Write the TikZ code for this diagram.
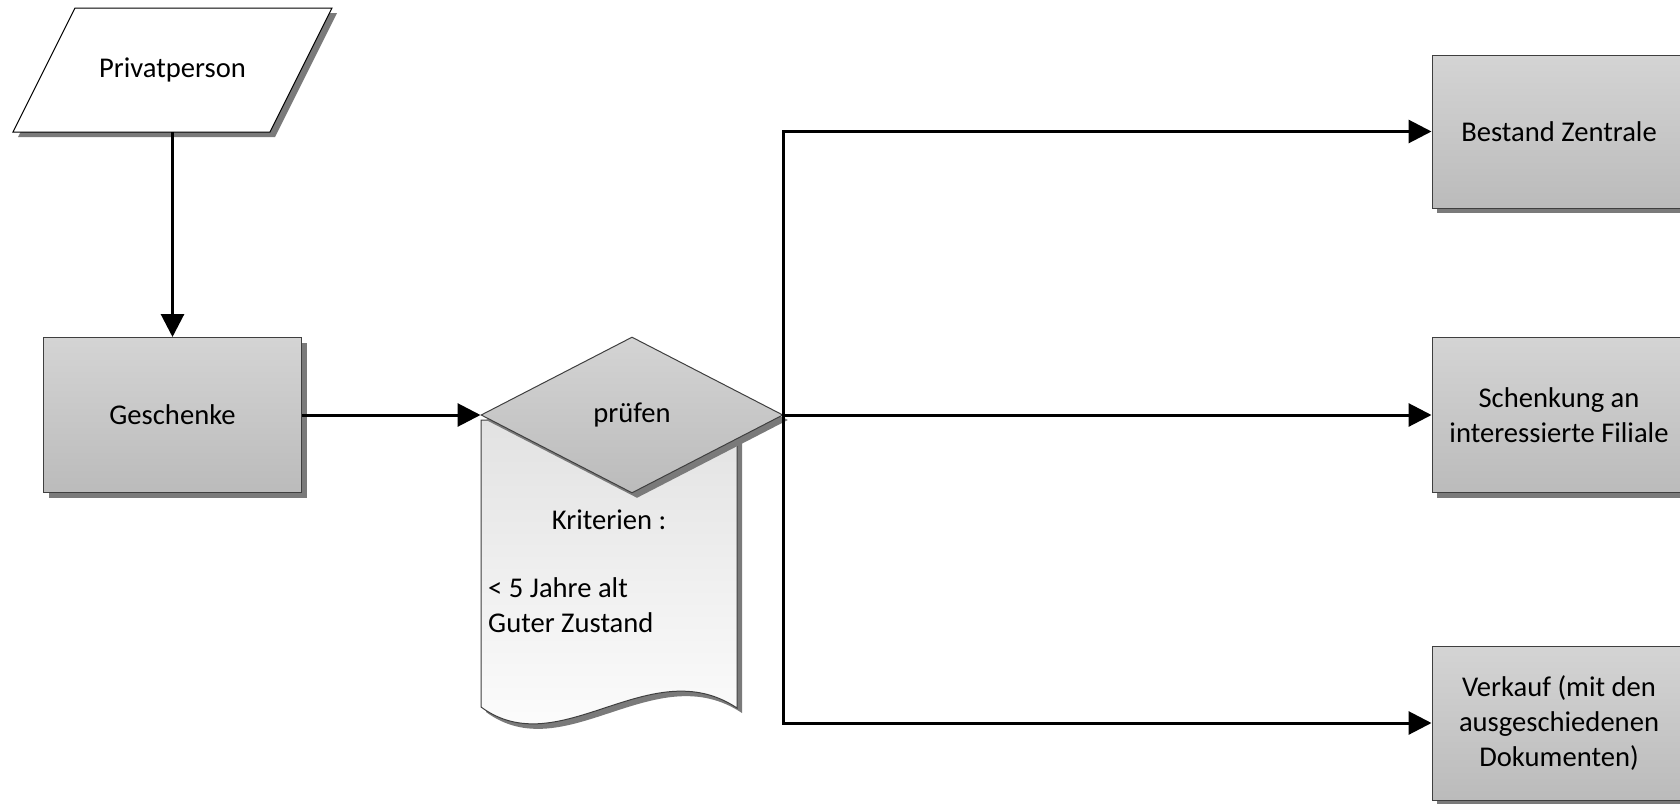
\documentclass[tikz,border=0pt]{standalone}
\usepackage{fontspec}
\setmainfont{Carlito}
\usetikzlibrary{shapes.geometric,shadows,arrows.meta}
\definecolor{boxtop}{HTML}{D4D4D4}
\definecolor{boxbot}{HTML}{BBBBBB}
\definecolor{boxborder}{HTML}{3F3F3F}
\definecolor{shadowgray}{HTML}{7A7A7A}
\definecolor{doctop}{HTML}{E2E2E2}
\definecolor{txtcol}{HTML}{000000}
\begin{document}
\begin{tikzpicture}[x=1pt,y=-1pt,
  txt/.style={font=\fontsize{28.6}{35}\selectfont, text=txtcol},
  shd/.style={drop shadow={shadow xshift=5pt,shadow yshift=-5pt,fill=shadowgray,opacity=1}},
  procbox/.style={txt, rectangle, draw=boxborder, line width=1pt, top color=boxtop, bottom color=boxbot, shd, inner sep=0pt, align=center},
  conn/.style={line width=3pt, -{Triangle[length=23pt,width=23pt]}},
  thinline/.style={line width=1pt, draw=boxborder}
]
\useasboundingbox (0,0) rectangle (1680,803);
\clip (0,0) rectangle (1680,803);

% Privatperson (parallelogram)
\fill[shadowgray] (80,13) -- (337,13) -- (275,137) -- (18,137) -- cycle;
\draw[thinline, draw=black, fill=white] (75,8) -- (332,8) -- (270,132) -- (13,132) -- cycle;
\node[txt, minimum width=319pt, minimum height=124pt, inner sep=0pt] (priv) at (172.5,70) {Privatperson};

% Geschenke
\node[procbox, minimum width=258pt, minimum height=155pt] (gesch) at (172.5,415) {Geschenke};

% document shape behind the decision
\fill[shadowgray] (486,425) -- (742,425) -- (742,713) .. controls (655,655) and (565,770) .. (486,712) -- cycle;
\draw[thinline, top color=doctop, bottom color=white] (481,420) -- (737,420) -- (737,708) .. controls (650,650) and (560,765) .. (481,707) -- cycle;
\node[txt] (krit) at (609,520) {Kriterien :};
\node[txt, anchor=west, align=left, inner sep=0pt] (kritlist) at (488,605) {< 5 Jahre alt\\Guter Zustand};

% decision
\node[txt, diamond, minimum width=302pt, minimum height=156pt, inner sep=0pt, draw=boxborder, line width=1pt, top color=boxtop, bottom color=boxbot, shd] (pruef) at (632,415) {prüfen};

% targets
\node[procbox, minimum width=254pt, minimum height=153pt] (bestand) at (1559,131.5) {Bestand Zentrale};
\node[procbox, minimum width=254pt, minimum height=155pt] (schenk) at (1559,415) {Schenkung an\\interessierte Filiale};
\node[procbox, minimum width=254pt, minimum height=154pt] (verkauf) at (1559,723) {Verkauf (mit den\\ausgeschiedenen\\Dokumenten)};

% connectors
\draw[conn] (priv.south) -- (gesch.north);
\draw[conn] (gesch.east) -- (pruef.west);
\draw[conn] (pruef.east) -- (schenk.west);
\draw[conn] (pruef.east) |- (bestand.west);
\draw[conn] (pruef.east) |- (verkauf.west);
\end{tikzpicture}
\end{document}
